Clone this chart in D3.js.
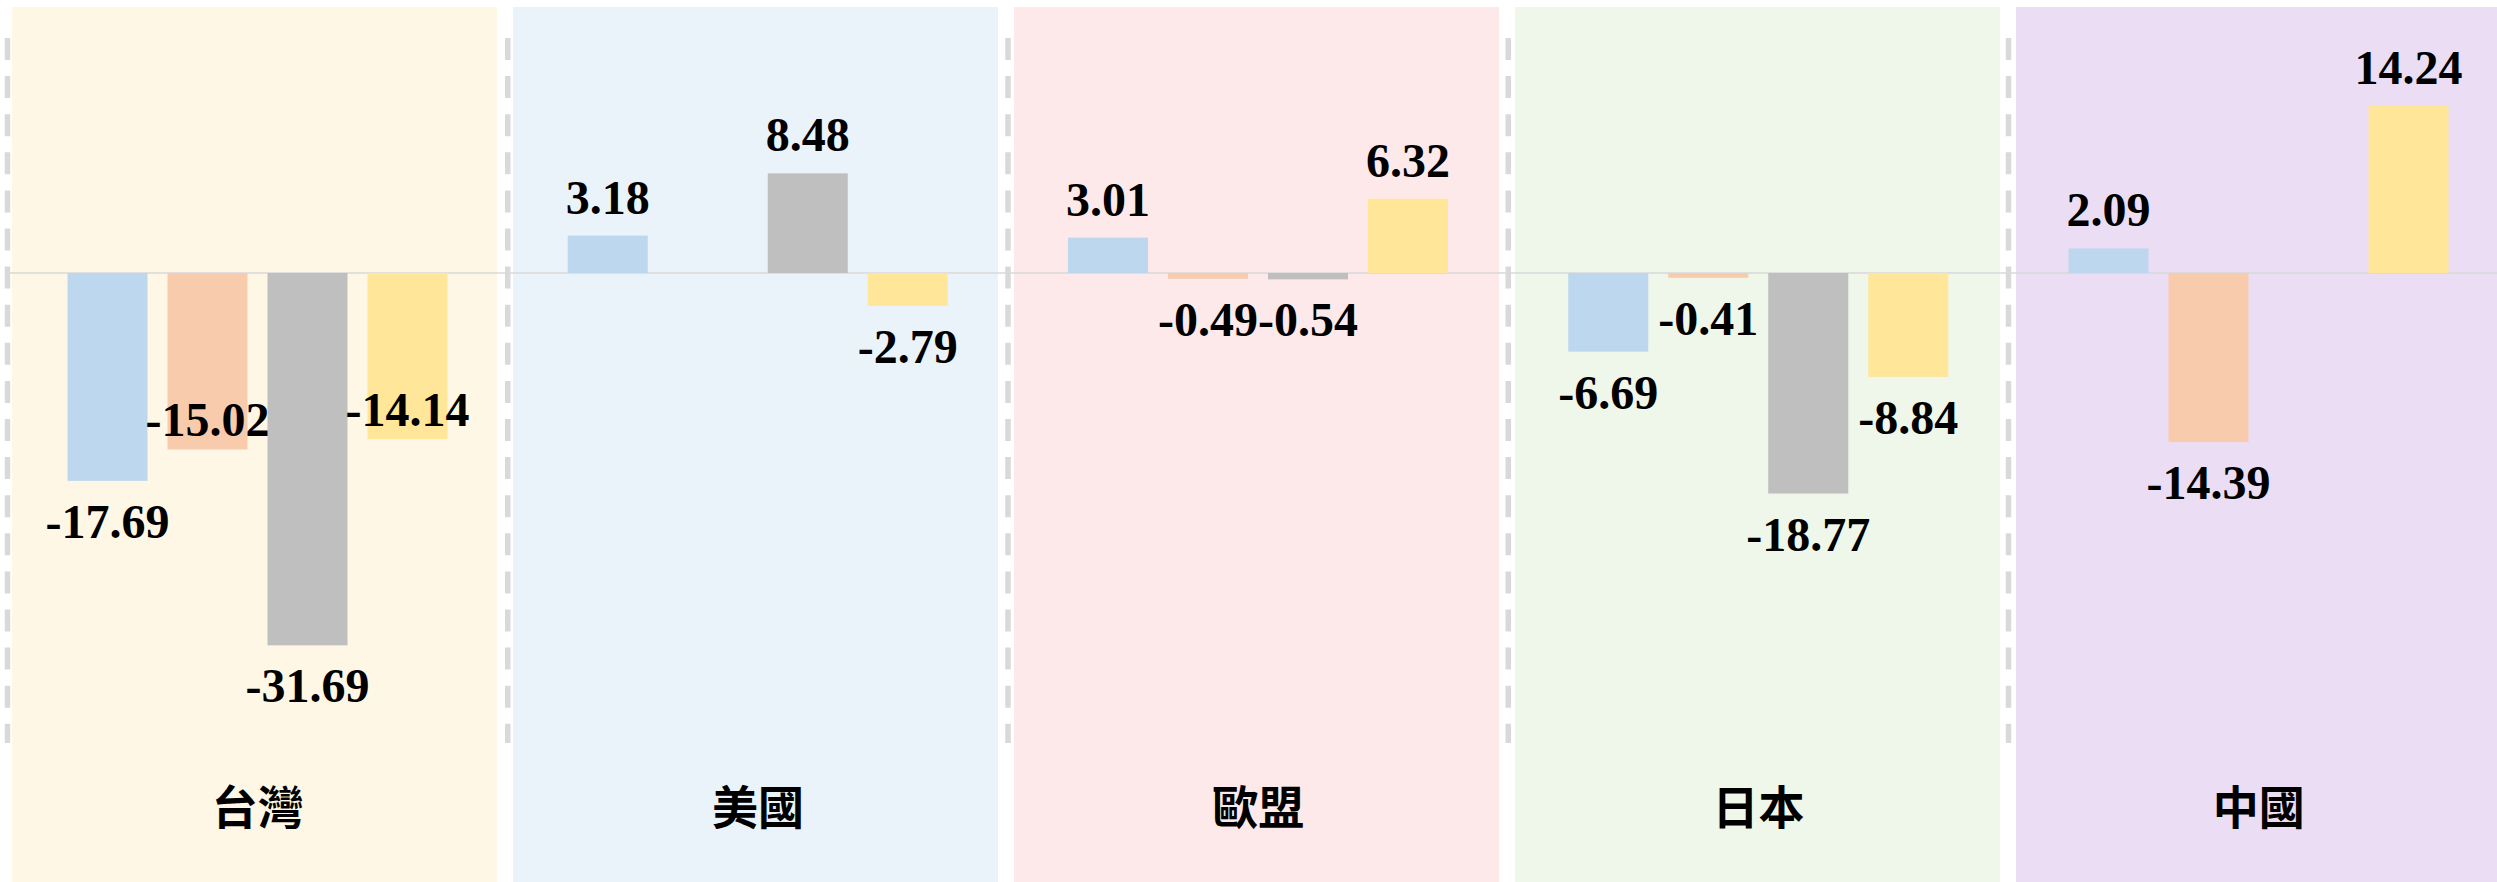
<!DOCTYPE html>
<html>
<head>
<meta charset="utf-8">
<script src="https://cdn.jsdelivr.net/npm/d3@7"></script>
<style>
  html, body { margin: 0; padding: 0; background: #ffffff; }
  svg { display: block; }
</style>
</head>
<body>
<svg id="chart" width="2497" height="882"></svg>
<script>
// Regions (one tinted panel each) and the four series per region
const categories = ["台灣", "美國", "歐盟", "日本", "中國"];
const seriesKeys = ["s1", "s2", "s3", "s4"];
const s1 = [-17.69, 3.18, 3.01, -6.69, 2.09];
const s2 = [-15.02, null, -0.49, -0.41, -14.39];
const s3 = [-31.69, 8.48, -0.54, -18.77, null];
const s4 = [-14.14, -2.79, 6.32, -8.84, 14.24];
const yDomain = [-40, 20];

// Labels drawn just inside the bar end instead of outside: [region, series]
const insideLabels = [[0, 1], [0, 3]];

const seriesColors = ["#BDD7EE", "#F8CBAD", "#BFBFBF", "#FFE699"];
const panelColors = ["#FEF7E6", "#EAF2FA", "#FDE9E9", "#EFF6EA", "#EBDEF4"];

const seriesValues = [s1, s2, s3, s4];
const rows = categories.map((c, i) => ({
  category: c,
  index: i,
  values: seriesKeys.map((k, j) => ({ key: k, sIndex: j, value: seriesValues[j][i], cIndex: i }))
}));

const svg = d3.select("#chart");
const W = 2497, H = 882;

// Plot-area scales
const x0 = d3.scaleBand().domain(categories).range([7.5, 2508.75]).padding(0);
const x1 = d3.scaleBand().domain(seriesKeys).range([60, 440]).paddingInner(0.2);
const y = d3.scaleLinear().domain(yDomain).range([743, 38]);

// Background panels, one per region
const xPanel = d3.scaleBand().domain(categories).range([12, 12 + 5 * 501]).padding(0);
svg.append("g").selectAll("rect")
  .data(rows)
  .join("rect")
  .attr("x", d => xPanel(d.category))
  .attr("y", 7)
  .attr("width", xPanel.bandwidth() - 16)
  .attr("height", H - 7)
  .attr("fill", (d, i) => panelColors[i]);

// Dashed category gridlines at the left edge of every band
svg.append("g").selectAll("line")
  .data(categories)
  .join("line")
  .attr("x1", d => x0(d))
  .attr("x2", d => x0(d))
  .attr("y1", y(yDomain[1]))
  .attr("y2", y(yDomain[0]))
  .attr("stroke", "#D9D9D9")
  .attr("stroke-width", 5.5)
  .attr("stroke-dasharray", "22 16.1");

// Zero baseline
svg.append("line")
  .attr("x1", x0.range()[0])
  .attr("x2", x0.range()[1])
  .attr("y1", y(0))
  .attr("y2", y(0))
  .attr("stroke", "#D9D9D9")
  .attr("stroke-width", 1.5);

// Bars
const groups = svg.append("g").selectAll("g")
  .data(rows)
  .join("g")
  .attr("transform", d => `translate(${x0(d.category)},0)`);

const present = d => d.values.filter(v => v.value !== null && v.value !== undefined);

groups.selectAll("rect")
  .data(present)
  .join("rect")
  .attr("x", d => x1(d.key))
  .attr("width", x1.bandwidth())
  .attr("y", d => Math.min(y(d.value), y(0)))
  .attr("height", d => Math.abs(y(d.value) - y(0)))
  .attr("fill", d => seriesColors[d.sIndex]);

// Value labels (plain hyphen for the minus sign)
const isInside = d => insideLabels.some(([c, s]) => c === d.cIndex && s === d.sIndex);
groups.selectAll("text.value")
  .data(present)
  .join("text")
  .attr("class", "value")
  .attr("x", d => x1(d.key) + x1.bandwidth() / 2)
  .attr("y", d => {
    const end = y(d.value);
    if (isInside(d)) return d.value < 0 ? end - 13 : end + 46;
    return d.value < 0 ? end + 57 : end - 22;
  })
  .attr("text-anchor", "middle")
  .attr("font-family", "'Liberation Serif', 'Times New Roman', serif")
  .attr("font-weight", "bold")
  .attr("font-size", 48)
  .attr("fill", "#000000")
  .text(d => d.value.toFixed(2));

// Region names
svg.append("g").selectAll("text")
  .data(categories)
  .join("text")
  .attr("x", d => x0(d) + x0.bandwidth() / 2)
  .attr("y", 804)
  .attr("text-anchor", "middle")
  .attr("dominant-baseline", "central")
  .attr("font-family", "'Noto Sans CJK TC', 'Noto Sans CJK SC', sans-serif")
  .attr("font-weight", "bold")
  .attr("font-size", 46)
  .attr("fill", "#000000")
  .text(d => d);
</script>
</body>
</html>
